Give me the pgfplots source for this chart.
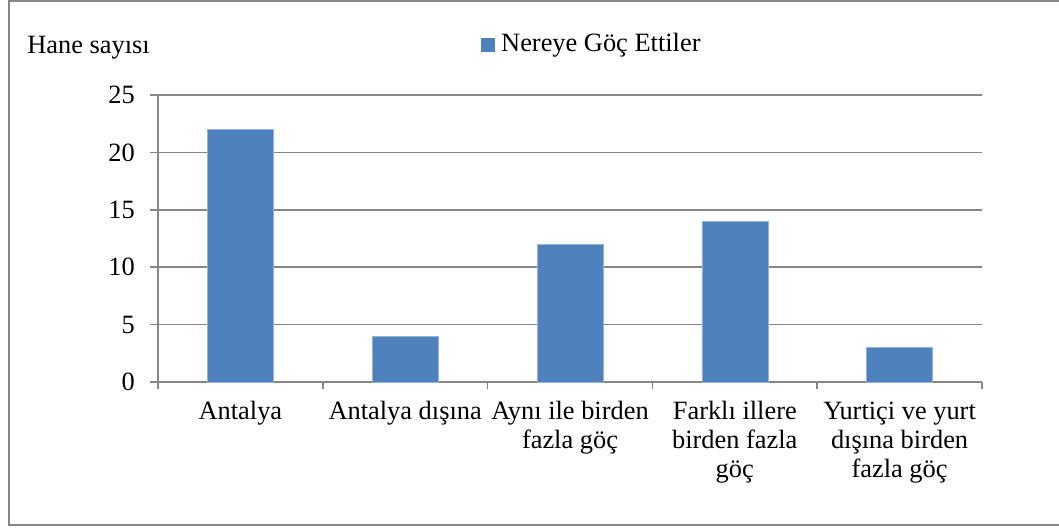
\documentclass[border=0pt]{standalone}
\usepackage{fontspec}
\setmainfont{Liberation Serif}
\usepackage{pgfplots}
\pgfplotsset{compat=1.18}
\definecolor{barblue}{HTML}{4F81BD}
\definecolor{gridgray}{HTML}{878787}
\begin{document}
\fontsize{13.2}{14.5}\selectfont
\begin{tikzpicture}
\useasboundingbox (0,0) rectangle (529.5pt,263.5pt);
\draw[gridgray, line width=1pt] (535pt,1pt) -- (4.5pt,1pt) -- (4.5pt,263pt) -- (535pt,263pt);
\begin{axis}[
  at={(79pt,72.5pt)}, anchor=south west,
  scale only axis, width=412pt, height=143.5pt,
  xmin=-0.5, xmax=4.5, ymin=0, ymax=25,
  axis lines=left,
  axis line style={-, draw=gridgray, line width=0.75pt},
  ybar, bar width=33pt,
  ytick={0,5,...,25},
  ymajorgrids, grid style={draw=gridgray, line width=0.75pt},
  xtick={0,1,2,3,4},
  xticklabels={Antalya, Antalya dışına, Aynı ile birden\\fazla göç, Farklı illere\\birden fazla\\göç, Yurtiçi ve yurt\\dışına birden\\fazla göç},
  xticklabel style={align=center, yshift=-1.2pt, font=\fontsize{13.2}{14.5}\selectfont},
  yticklabel style={xshift=-3pt, font=\fontsize{13.2}{14.5}\selectfont},
  major x tick style={draw=none},
  minor xtick={-0.5,0.5,...,4.5},
  tick align=outside,
  major tick length=4pt, minor tick length=3.5pt,
  tick style={draw=gridgray, line width=0.75pt},
  /pgf/number format/assume math mode=true,
  ylabel={Hane sayısı},
  ylabel style={at={(axis description cs:-0.159,1.146)}, rotate=-90, anchor=base west, inner sep=0pt, font=\fontsize{13.2}{14.5}\selectfont},
  legend style={at={(axis description cs:0.391,1.176)}, anchor=west, draw=none, inner sep=0pt, font=\fontsize{13.2}{14.5}\selectfont},
  legend image code/.code={\fill[barblue] (0pt,-3.25pt) rectangle (6.5pt,3.25pt);},
]
\addplot[fill=barblue, draw=barblue!60!white, line width=0.3pt] coordinates {(0,22) (1,4) (2,12) (3,14) (4,3)};
\addlegendentry{\hspace{1.5pt}Nereye Göç Ettiler}
\end{axis}
\end{tikzpicture}
\end{document}
